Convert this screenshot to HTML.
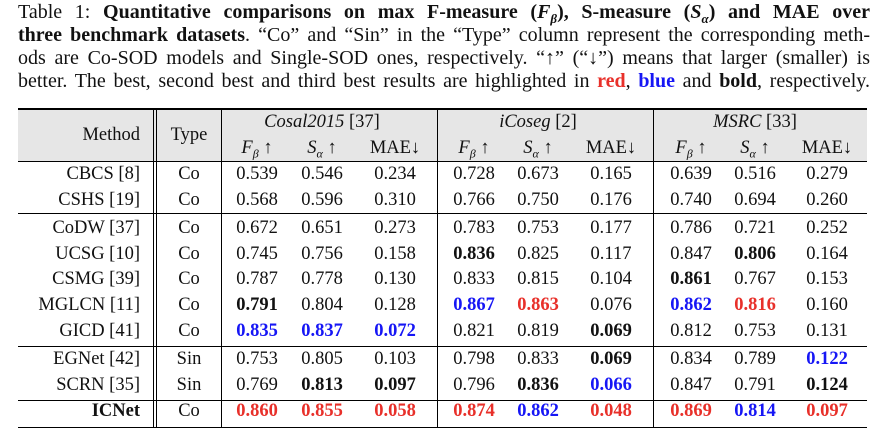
<!DOCTYPE html>
<html><head><meta charset="utf-8"><style>
body{margin:0;width:874px;height:431px;background:#fff;overflow:hidden;position:relative;font-family:"Liberation Serif",serif;color:#111}
.cap{position:absolute;left:18px;width:852px;font-size:20px;line-height:23px;text-align:justify;text-align-last:justify;white-space:nowrap}
.c{position:absolute;font-size:18.5px;line-height:20px;white-space:nowrap}
.h{position:absolute;background:#000}
.b{font-weight:bold}.r{color:#e8302a;font-weight:bold}.u{color:#1616f5;font-weight:bold}
</style></head><body>
<div class="cap" style="top:1px">Table 1: <b>Quantitative comparisons on max F-measure (<i>F<sub style="font-size:13px">β</sub></i>), S-measure (<i>S<sub style="font-size:13px">α</sub></i>) and MAE over</b></div>
<div class="cap" style="top:24px"><b>three benchmark datasets</b>. “Co” and “Sin” in the “Type” column represent the corresponding meth-</div>
<div class="cap" style="top:47px">ods are Co-SOD models and Single-SOD ones, respectively. “↑” (“↓”) means that larger (smaller) is</div>
<div class="cap" style="top:70px">better. The best, second best and third best results are highlighted in <span class="r">red</span>, <span class="u">blue</span> and <b>bold</b>, respectively.</div>
<div style="position:absolute;left:18px;top:110px;width:849px;height:52px;background:#e6e6e6"></div>
<div id="t"></div>
<script>
const methods=["CBCS  [8]","CSHS [19]","CoDW [37]","UCSG [10]","CSMG [39]","MGLCN [11]","GICD [41]","EGNet [42]","SCRN [35]","ICNet"];
const types=["Co","Co","Co","Co","Co","Co","Co","Sin","Sin","Co"];
const values=[
["0.539","0.546","0.234","0.728","0.673","0.165","0.639","0.516","0.279"],
["0.568","0.596","0.310","0.766","0.750","0.176","0.740","0.694","0.260"],
["0.672","0.651","0.273","0.783","0.753","0.177","0.786","0.721","0.252"],
["0.745","0.756","0.158","0.836","0.825","0.117","0.847","0.806","0.164"],
["0.787","0.778","0.130","0.833","0.815","0.104","0.861","0.767","0.153"],
["0.791","0.804","0.128","0.867","0.863","0.076","0.862","0.816","0.160"],
["0.835","0.837","0.072","0.821","0.819","0.069","0.812","0.753","0.131"],
["0.753","0.805","0.103","0.798","0.833","0.069","0.834","0.789","0.122"],
["0.769","0.813","0.097","0.796","0.836","0.066","0.847","0.791","0.124"],
["0.860","0.855","0.058","0.874","0.862","0.048","0.869","0.814","0.097"]];
const styles=[
"---------","---------","---------","---b---b-","------b--","b--ur-ur-","uuu--b---","-----b--u","-bb-bu--b","rrrrurrur"];
const datasets=["Cosal2015","iCoseg","MSRC"];
const refs=["[37]","[2]","[33]"];
const t=document.getElementById('t');
const colX=[257,322,395,474,538,611,691,755,827];
const rowY=[174,200,228,254,279,305,331,359,385,411];
function cell(html,x,y,cls,align){const d=document.createElement('div');d.className='c '+(cls||'');d.innerHTML=html;d.style.top=(y-10)+'px';
if(align==='r'){d.style.right=(874-x)+'px';}else{d.style.left=x+'px';d.style.transform='translateX(-50%)';}
t.appendChild(d);return d;}
function line(x,y,w,h,n){const d=document.createElement('div');d.className='h';d.style.left=x+'px';d.style.top=y+'px';d.style.width=w+'px';d.style.height=h+'px';

t.appendChild(d);}
let e=cell('Method',140,135,'','r');


e=cell('Type',189,135);


datasets.forEach((ds,i)=>{let d=cell('<i>'+ds+'</i> '+refs[i],colX[i*3+1],122);


['<i>F<sub style="font-size:12px">β</sub></i> ↑','<i>S<sub style="font-size:12px">α</sub></i> ↑','MAE↓'].forEach((m,j)=>{let s=cell(m,colX[i*3+j],148);

});});
methods.forEach((m,r)=>{let a=cell(m,140,rowY[r],r===9?'b':'','r');


let b=cell(types[r],189,rowY[r]);


values[r].forEach((v,j)=>{const s=styles[r][j];let c=cell(v,colX[j],rowY[r],s==='-'?'':s);

});});
line(18,108,849,2,'top-rule');line(18,161,849,1,'header-rule');line(18,213,849,1,'group-rule-1');
line(18,346,849,1,'group-rule-2');line(18,400,849,1,'group-rule-3');line(18,427,849,1,'bottom-rule');
[153,156,221,437,653].forEach(x=>line(x,110,1,318,'column-divider'));
</script>
</body></html>
